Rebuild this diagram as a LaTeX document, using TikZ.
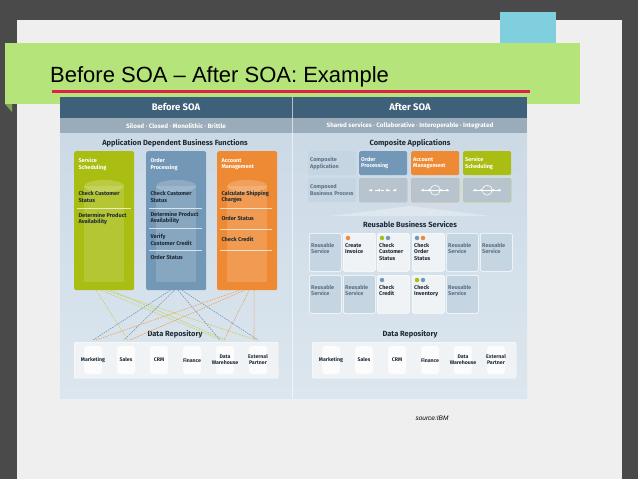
\documentclass[tikz,border=0pt]{standalone}
\usepackage{fontspec}
\setmainfont{Liberation Sans}
\newfontfamily\dg{Fira Sans}
\usetikzlibrary{calc}
\definecolor{bgdark}{HTML}{4A4A4A}
\definecolor{slide}{HTML}{EFEFEF}
\definecolor{tab}{HTML}{7FCFDF}
\definecolor{banner}{HTML}{B5E47A}
\definecolor{redline}{HTML}{E0204A}
\definecolor{hdr}{HTML}{3F6079}
\definecolor{subhdr}{HTML}{9AABB9}
\definecolor{body}{HTML}{C9D8E5}
\definecolor{bodylo}{HTML}{DCE6EE}
\definecolor{cgreen}{HTML}{A9BD12}
\definecolor{cblue}{HTML}{7397B6}
\definecolor{corange}{HTML}{EE8A33}
\definecolor{svc}{HTML}{C5D5E2}
\definecolor{svcw}{HTML}{F0F3F6}
\definecolor{txt}{HTML}{1E2A36}
\definecolor{gtxt}{HTML}{5C7185}
\tikzset{
  x=1pt,y=-1pt,
  colbox/.style={rounded corners=2pt,minimum width=60,minimum height=139,anchor=north west,inner sep=0},
  hdtxt/.style={font=\dg\bfseries\fontsize{5.5}{6.5}\selectfont,text=white,align=left,anchor=north west},
  itm/.style={font=\dg\bfseries\fontsize{5.6}{6.6}\selectfont,text=txt,align=left,anchor=west},
  sep/.style={white,opacity=0.7,line width=0.6},
  sect/.style={font=\dg\bfseries\fontsize{7.5}{8}\selectfont,text=txt},
  cabox/.style={rounded corners=1.5pt,minimum width=48,minimum height=24,anchor=north west,inner sep=2,font=\dg\bfseries\fontsize{5.5}{6.5}\selectfont,align=left,text width=44},
  rsv/.style={rounded corners=1.5pt,minimum width=32,minimum height=38,anchor=north west,fill=svc,draw=white,line width=0.5,inner sep=0},
  rtx/.style={font=\dg\bfseries\fontsize{5.5}{6.5}\selectfont,align=left,anchor=north west,inner sep=1},
  repo/.style={rounded corners=2pt,fill=svcw,draw=white,minimum width=204,minimum height=36,anchor=north west},
  cyl/.style={fill=white,opacity=0.8,rounded corners=3pt,minimum width=18,minimum height=28},
  rlab/.style={font=\dg\bfseries\fontsize{5.2}{6}\selectfont,text=txt,align=center},
  dg/.style={dashed,dash pattern=on 1.5pt off 1pt,line width=0.6,cgreen!70},
  db/.style={dashed,dash pattern=on 1.5pt off 1pt,line width=0.6,cblue},
  do/.style={dashed,dash pattern=on 1.5pt off 1pt,line width=0.6,corange!80},
  dot/.style={circle,inner sep=0,minimum size=4.5},
}
\begin{document}
\begin{tikzpicture}
\useasboundingbox (0,0) rectangle (638,479);
\fill[bgdark] (0,0) rectangle (638,479);
\fill[slide] (17,20) rectangle (622,479);
\fill[tab] (500,12) rectangle (556,97);
\fill[banner!70!black] (5,104) -- (12,112) -- (12,104) -- cycle;
\fill[banner] (5,43) rectangle (580,104);
\node[anchor=base west,font=\fontsize{22}{24}\selectfont,inner sep=0] (title) at (50,82) {Before SOA – After SOA: Example};
\draw[redline,line width=3] (52,91) -- (530,91);
% diagram
\shade[top color=body,bottom color=bodylo] (60,97) rectangle (527,398);
\fill[hdr] (60,97) rectangle (527,118);
\fill[subhdr] (60,118) rectangle (527,133);
\draw[white,opacity=0.6] (292,97) -- (292,398);
\node[font=\dg\bfseries\fontsize{9.5}{10}\selectfont,text=white] (bh) at (176,107) {Before SOA};
\node[font=\dg\bfseries\fontsize{9.5}{10}\selectfont,text=white] (ah) at (410,107) {After SOA};
\node[font=\dg\bfseries\fontsize{6.3}{7}\selectfont,text=white] (bs) at (176,126) {Siloed · Closed · Monolithic · Brittle};
\node[font=\dg\bfseries\fontsize{6.3}{7}\selectfont,text=white] (as) at (410,126) {Shared services · Collaborative · Interoperable · Integrated};
% left
\node[sect] (adbf) at (175,143) {Application Dependent Business Functions};
\node[colbox,fill=cgreen] (cg) at (74,151) {};
\node[colbox,fill=cblue] (cb) at (146,151) {};
\node[colbox,fill=corange] (co) at (217,151) {};
\foreach \c in {cg,cb,co}{
  \fill[white,opacity=0.15] ($(\c.north west)+(10,35)$) rectangle ($(\c.south east)+(-10,-8)$);
  \fill[white,opacity=0.2] ($(\c.north)+(0,35)$) ellipse (20 and 6);
}
\node[hdtxt] (g1) at (75,155) {Service\\Scheduling};
\node[hdtxt] (b1) at (147,155) {Order\\Processing};
\node[hdtxt] (o1) at (218,155) {Account\\Management};
\node[itm] (g2) at (75,197) {Check Customer\\Status};
\draw[sep] (77,208) -- (131,208);
\node[itm] (g3) at (75,219) {Determine Product\\Availability};
\node[itm] (b2) at (147,197) {Check Customer\\Status};
\draw[sep] (149,208) -- (202,208);
\node[itm] (b3) at (147,218) {Determine Product\\Availability};
\draw[sep] (149,228) -- (202,228);
\node[itm] (b4) at (147,240) {Verify\\Customer Credit};
\draw[sep] (149,250) -- (202,250);
\node[itm] (b5) at (147,257) {Order Status};
\node[itm] (o2) at (218,197) {Calculate Shipping\\Charges};
\draw[sep] (220,208) -- (272,208);
\node[itm] (o3) at (218,218) {Order Status};
\draw[sep] (220,229) -- (272,229);
\node[itm] (o4) at (218,239) {Check Credit};
\draw[sep] (220,250) -- (272,250);
% repositories
\node[sect] (dr1) at (175,334) {Data Repository};
\node[sect] (dr2) at (410,334) {Data Repository};
\node[repo] (rp1) at (74,342) {};
\node[repo] (rp2) at (312,342) {};
\foreach \r/\x in {rp1/0,rp2/238}{
  \foreach \n/\lab [count=\i] in {Marketing/Marketing,Sales/Sales,CRM/CRM,Finance/Finance,DW/{Data\\Warehouse},EP/{External\\Partner}}{
    \pgfmathsetmacro{\px}{\x+93+(\i-1)*33}
    \node[cyl] (\r\n) at (\px,360) {};
    \node[rlab] at (\r\n) {\lab};
  }
}
% dashed connectors
\coordinate (t1) at (93,340); \coordinate (t2) at (126,340); \coordinate (t3) at (158,340);
\coordinate (t4) at (191,340); \coordinate (t5) at (224,340); \coordinate (t6) at (256,340);
\draw[dg] ($(cg.south)+(-8,0)$) -- ($(t2)+(2,0)$);
\draw[dg] ($(cg.south)+(-3,0)$) -- ($(t5)+(-2,0)$);
\draw[dg] ($(cg.south)+(2,0)$) -- ($(t6)+(0,0)$);
\draw[dg] ($(cg.south)+(7,0)$) -- ($(t5)+(2,0)$);
\draw[db] ($(cb.south)+(-6,0)$) -- ($(t1)+(0,0)$);
\draw[db] ($(cb.south)+(-2,0)$) -- ($(t2)+(-2,0)$);
\draw[db] ($(cb.south)+(2,0)$) -- ($(t5)+(-4,0)$);
\draw[db] ($(cb.south)+(6,0)$) -- ($(t6)+(2,0)$);
\draw[do] ($(co.south)+(-8,0)$) -- ($(t1)+(3,0)$);
\draw[do] ($(co.south)+(-3,0)$) -- ($(t2)+(4,0)$);
\draw[do] ($(co.south)+(2,0)$) -- ($(t5)+(0,0)$);
\draw[do] ($(co.south)+(7,0)$) -- ($(t6)+(-2,0)$);
% right: composite apps
\node[sect] (caps) at (410,143) {Composite Applications};
\node[cabox,fill=svc,text=gtxt] (ca1) at (308,151) {Composite\\Application};
\node[cabox,fill=cblue,text=white] (ca2) at (359,151) {Order\\Processing};
\node[cabox,fill=corange,text=white] (ca3) at (411,151) {Account\\Management};
\node[cabox,fill=cgreen,text=white] (ca4) at (463,151) {Service\\Scheduling};
\node[cabox,fill=svc,text=gtxt] (cp1) at (308,178) {Composed\\Business Process};
\node[cabox,fill=svc!80!gray,draw=cblue!60] (cp2) at (359,178) {};
\node[cabox,fill=svc!80!gray,draw=corange!70] (cp3) at (411,178) {};
\node[cabox,fill=svc!80!gray,draw=cgreen!70] (cp4) at (463,178) {};
\draw[white,line width=0.5,dashed] ($(cp2.center)+(-14,0)$) -- ($(cp2.center)+(14,0)$);
\foreach \dx in {-12,-4,4,12} \fill[white] ($(cp2.center)+(\dx,0)$) circle (1.3);
\foreach \c in {cp3,cp4}{
  \draw[white,line width=0.5] ($(\c.center)+(-14,0)$) -- ($(\c.center)+(14,0)$);
  \draw[white,line width=0.6] (\c.center) circle (5);
  \foreach \dx in {-12,-6,6,12} \fill[white] ($(\c.center)+(\dx,0)$) circle (1.3);
}
\fill[white,opacity=0.3] (330,216) -- (410,206) -- (490,216) -- cycle;
\node[sect] (rbs) at (410,225) {Reusable Business Services};
\node[rsv] (r1) at (309,233) {};
\node[rsv,fill=svcw] (r2) at (343,233) {};
\node[rsv,fill=svcw] (r3) at (377,233) {};
\node[rsv,fill=svcw] (r4) at (412,233) {};
\node[rsv] (r5) at (446,233) {};
\node[rsv] (r6) at (480,233) {};
\node[rsv] (s1) at (309,275) {};
\node[rsv] (s2) at (343,275) {};
\node[rsv,fill=svcw] (s3) at (377,275) {};
\node[rsv,fill=svcw] (s4) at (412,275) {};
\node[rsv] (s5) at (446,275) {};
\foreach \b in {r1,r5,r6,s1,s2,s5}
  \node[rtx,text=gtxt] at ($(\b.north west)+(1,9)$) {Reusable\\Service};
\node[rtx,text=txt] at ($(r2.north west)+(1,9)$) {Create\\Invoice};
\node[rtx,text=txt] at ($(r3.north west)+(1,9)$) {Check\\Customer\\Status};
\node[rtx,text=txt] at ($(r4.north west)+(1,9)$) {Check\\Order\\Status};
\node[rtx,text=txt] at ($(s3.north west)+(1,9)$) {Check\\Credit};
\node[rtx,text=txt] at ($(s4.north west)+(1,9)$) {Check\\Inventory};
\node[dot,fill=corange] at ($(r2.north west)+(5,5)$) {};
\node[dot,fill=cgreen] at ($(r3.north west)+(5,5)$) {};
\node[dot,fill=cblue] at ($(r3.north west)+(11,5)$) {};
\node[dot,fill=cblue] at ($(r4.north west)+(5,5)$) {};
\node[dot,fill=corange] at ($(r4.north west)+(11,5)$) {};
\node[dot,fill=cblue] at ($(s3.north west)+(5,5)$) {};
\node[dot,fill=cgreen] at ($(s4.north west)+(5,5)$) {};
\node[dot,fill=cblue] at ($(s4.north west)+(11,5)$) {};
\node[font=\itshape\fontsize{6.5}{7}\selectfont] (src) at (432,418) {source:IBM};
\end{tikzpicture}
\end{document}
